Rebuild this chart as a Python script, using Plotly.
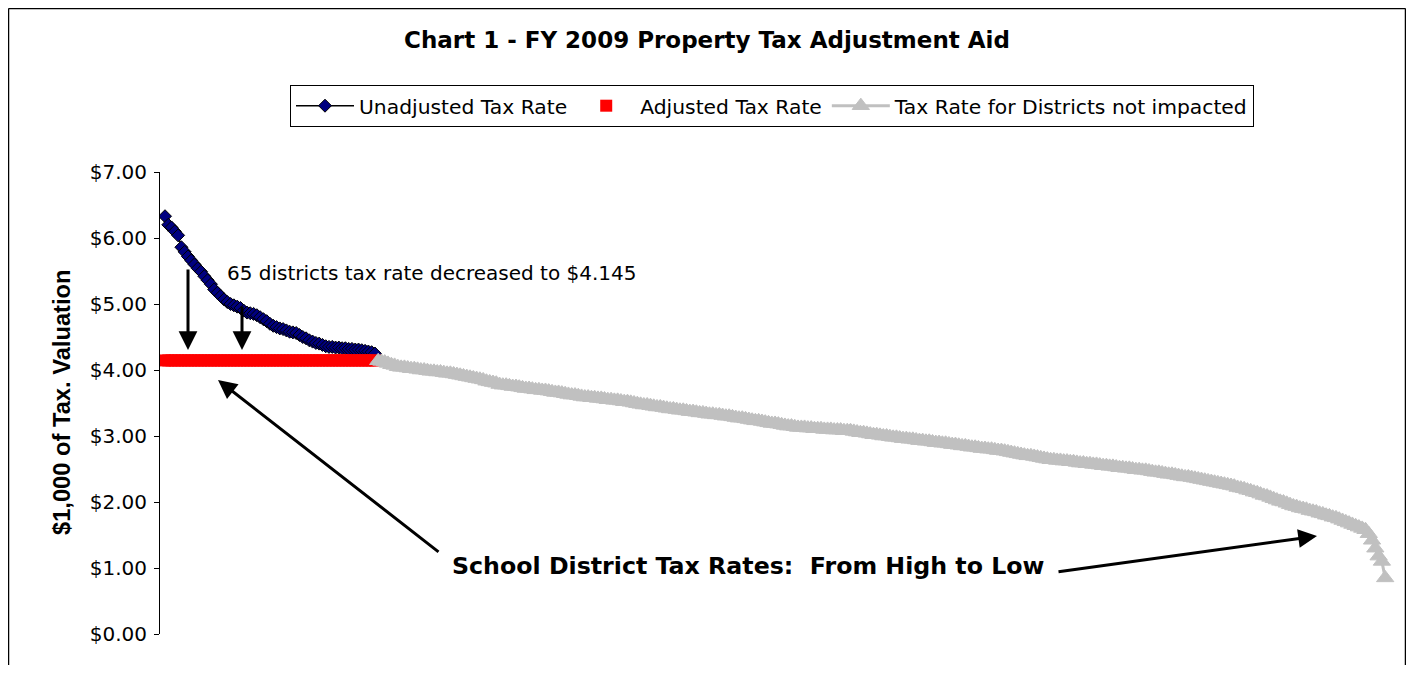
import plotly.graph_objects as go

# ---------------- data ----------------
title_text = "Chart 1 - FY 2009 Property Tax Adjustment Aid"
series_names = ["Unadjusted Tax Rate", "Adjusted Tax Rate", "Tax Rate for Districts not impacted"]

unadjusted_rates = [
    6.33, 6.20, 6.16, 6.10, 6.04, 5.86, 5.79, 5.72, 5.66, 5.60,
    5.54, 5.49, 5.42, 5.36, 5.30, 5.22, 5.17, 5.12, 5.07, 5.03,
    5.00, 4.98, 4.96, 4.94, 4.90, 4.87, 4.86, 4.85, 4.83, 4.80,
    4.77, 4.74, 4.70, 4.67, 4.65, 4.63, 4.62, 4.60, 4.58, 4.57,
    4.56, 4.53, 4.50, 4.48, 4.45, 4.43, 4.41, 4.40, 4.38, 4.36,
    4.35, 4.35, 4.34, 4.34, 4.33, 4.33, 4.32, 4.32, 4.31, 4.31,
    4.30, 4.29, 4.28, 4.27, 4.25,
]

adjusted_rate = 4.145
adjusted_rates = [adjusted_rate] * len(unadjusted_rates)

not_impacted_rates = [
    4.14, 4.13, 4.12, 4.10, 4.08, 4.07, 4.05,
    4.04, 4.04, 4.03, 4.02, 4.02, 4.01, 4.00, 4.00, 3.99, 3.98, 3.98, 3.97, 3.97, 3.96, 3.95, 3.95,
    3.94, 3.93, 3.92, 3.91, 3.90, 3.89, 3.88, 3.87, 3.86, 3.85, 3.83, 3.82, 3.81, 3.80, 3.78,
    3.77, 3.77, 3.76, 3.75, 3.75, 3.74, 3.73, 3.72, 3.72, 3.71, 3.70, 3.70, 3.69, 3.69, 3.68,
    3.67, 3.66, 3.66, 3.65, 3.64, 3.63, 3.62, 3.62, 3.61, 3.60, 3.59,
    3.59, 3.58, 3.58, 3.57, 3.57, 3.56, 3.55, 3.55, 3.54, 3.54, 3.53, 3.52, 3.52, 3.51,
    3.50, 3.49, 3.48, 3.47, 3.47, 3.46, 3.45, 3.44, 3.44, 3.43, 3.42, 3.41, 3.41, 3.40, 3.39,
    3.39, 3.38, 3.37, 3.37, 3.36, 3.35, 3.35, 3.34, 3.33, 3.33, 3.32, 3.32, 3.31, 3.30, 3.30,
    3.29, 3.28, 3.27, 3.27, 3.26, 3.25, 3.24, 3.23, 3.23, 3.22, 3.21, 3.20, 3.19, 3.19, 3.18,
    3.17, 3.16, 3.15, 3.15, 3.14,
    3.13, 3.13, 3.13, 3.12, 3.12, 3.11, 3.11, 3.11, 3.10, 3.10, 3.10, 3.09, 3.09, 3.09, 3.08,
    3.08, 3.08,
    3.07, 3.06, 3.05, 3.05, 3.04, 3.03, 3.02, 3.02, 3.01, 3.00, 3.00, 2.99, 2.98, 2.98, 2.97,
    2.96, 2.96, 2.95, 2.95, 2.94, 2.93, 2.93, 2.92, 2.92, 2.91, 2.90, 2.90, 2.89, 2.89, 2.88,
    2.87, 2.87, 2.86, 2.85, 2.85, 2.84, 2.83, 2.83, 2.82, 2.81, 2.81, 2.80, 2.80, 2.79, 2.78,
    2.78, 2.77,
    2.76, 2.75, 2.74, 2.73, 2.72, 2.71, 2.70, 2.70, 2.69, 2.68, 2.67, 2.66, 2.65, 2.64,
    2.64, 2.63, 2.63, 2.62, 2.62, 2.61, 2.61, 2.60, 2.59, 2.59, 2.58, 2.58, 2.57, 2.57, 2.56,
    2.55, 2.55, 2.54, 2.54, 2.53, 2.52, 2.52, 2.51, 2.51, 2.50, 2.49, 2.49, 2.48, 2.48, 2.47,
    2.46, 2.45, 2.45, 2.44, 2.43, 2.42, 2.42, 2.41, 2.40, 2.39, 2.38, 2.38, 2.37, 2.36, 2.35,
    2.34, 2.33, 2.32, 2.31, 2.30,
    2.29, 2.28, 2.27, 2.26, 2.25, 2.24, 2.22, 2.21, 2.20, 2.18, 2.17,
    2.15, 2.14, 2.12, 2.10, 2.09, 2.07, 2.05, 2.03, 2.01, 2.00, 1.98, 1.96, 1.94, 1.93, 1.91,
    1.90, 1.89, 1.87, 1.86, 1.85, 1.83, 1.82, 1.80, 1.79,
    1.77, 1.76, 1.74, 1.72, 1.70, 1.68, 1.66, 1.64, 1.62, 1.60, 1.58,
    1.52, 1.42, 1.30, 1.18, 1.10, 0.85,
]

y_tick_values = [0, 1, 2, 3, 4, 5, 6, 7]
y_tick_labels = ["$0.00", "$1.00", "$2.00", "$3.00", "$4.00", "$5.00", "$6.00", "$7.00"]

# district index positions (categories)
n_imp = len(unadjusted_rates)
x_impacted = list(range(1, n_imp + 1))
x_not = list(range(n_imp + 1, n_imp + 1 + len(not_impacted_rates)))

FONT = "DejaVu Sans, Arial, sans-serif"

fig = go.Figure()
fig.add_trace(go.Scatter(
    x=x_impacted, y=unadjusted_rates, name=series_names[0], mode="lines+markers",
    line=dict(color="black", width=1.5),
    marker=dict(symbol="diamond", size=10, color="#000080", line=dict(color="black", width=1)),
))
fig.add_trace(go.Scatter(
    x=x_impacted, y=adjusted_rates, name=series_names[1], mode="markers",
    marker=dict(symbol="square", size=12, color="#FF0000", line=dict(width=0)),
))
fig.add_trace(go.Scatter(
    x=x_not, y=not_impacted_rates, name=series_names[2], mode="lines+markers",
    line=dict(color="#C0C0C0", width=3),
    marker=dict(symbol="triangle-up", size=15, color="#C0C0C0", line=dict(color="#C0C0C0", width=1)),
))

# geometry (page px -> figure px: the page body has an 8px margin)
OFF = 8
W, H = 1398, 657
L, T = 160 - OFF, 172 - OFF
PB, PR = 634 - OFF, 1395 - OFF
B, R = H - PB, W - PR
pw = PR - L
ph = PB - T
step = 3.28
x0 = 1 - 5 / step
x1 = x0 + pw / step


def px_to_paper_x(px):
    return (px - OFF - L) / pw


def py_to_paper_y(py):
    return (PB - (py - OFF)) / ph


def px_to_data_x(px):
    return x0 + (px - OFF - L) / step


def py_to_data_y(py):
    return py_to_paper_y(py) * 7.0


annotations = [
    dict(text="65 districts tax rate decreased to $4.145", x=px_to_data_x(225), y=py_to_data_y(273),
         xref="x", yref="y", xanchor="left", yanchor="middle", showarrow=False,
         font=dict(family=FONT, size=20, color="black")),
    dict(text="<b>School District Tax Rates:\u00a0 From High to Low</b>", x=px_to_data_x(748), y=py_to_data_y(566),
         xref="x", yref="y", xanchor="center", yanchor="middle", showarrow=False,
         font=dict(family=FONT, size=23.7, color="black")),
    dict(text="<b>$1,000 of Tax. Valuation</b>", x=px_to_paper_x(62), y=py_to_paper_y(402),
         xref="paper", yref="paper", xanchor="center", yanchor="middle", showarrow=False, textangle=-90,
         font=dict(family="Liberation Sans, Arial, sans-serif", size=23.7, color="black")),
]

arrows = [
    # (tip px, tail px) in reference page pixels
    ((188, 350), (188, 268)),
    ((242, 350), (242, 305)),
    ((218, 380), (440, 553)),
    ((1317, 536), (1057, 572)),
]
for (tx, ty), (sx, sy) in arrows:
    annotations.append(dict(
        text="", x=px_to_data_x(tx), y=py_to_data_y(ty), xref="x", yref="y",
        ax=sx - tx, ay=sy - ty, axref="pixel", ayref="pixel",
        showarrow=True, arrowhead=2, arrowsize=1.25, arrowwidth=3, arrowcolor="black", standoff=0,
    ))

frame_left = px_to_paper_x(OFF + 0.5)
frame_right = px_to_paper_x(OFF + W - 0.5)
frame_top = py_to_paper_y(OFF + 0.5)
frame_bottom = py_to_paper_y(OFF + H)
frame_line = dict(color="black", width=1.5)

fig.update_layout(
    width=W, height=H,
    margin=dict(l=L, r=R, t=T, b=B, pad=0),
    paper_bgcolor="white", plot_bgcolor="white",
    font=dict(family=FONT, size=20, color="black"),
    title=dict(text="<b>" + title_text + "</b>", x=0.5, xref="container", xanchor="center",
               y=1 - (40 - OFF) / H, yref="container", yanchor="middle",
               font=dict(family=FONT, size=23, color="black")),
    showlegend=True,
    legend=dict(orientation="h", x=px_to_paper_x(290), xanchor="left", y=py_to_paper_y(85), yanchor="top",
                bordercolor="black", borderwidth=1, bgcolor="white",
                font=dict(family=FONT, size=20.3, color="black"), itemwidth=58),
    xaxis=dict(visible=False, range=[x0, x1]),
    yaxis=dict(range=[0, 7], tickvals=y_tick_values, ticktext=y_tick_labels, showgrid=False, zeroline=False,
               showline=True, linecolor="black", linewidth=1, ticks="outside", ticklen=5, tickcolor="black",
               tickfont=dict(family=FONT, size=20, color="black"), ticklabelstandoff=3),
    annotations=annotations,
    shapes=[
        dict(type="line", xref="paper", yref="paper", x0=frame_left, x1=frame_left, y0=frame_bottom, y1=frame_top,
             line=frame_line),
        dict(type="line", xref="paper", yref="paper", x0=frame_right, x1=frame_right, y0=frame_bottom, y1=frame_top,
             line=frame_line),
        dict(type="line", xref="paper", yref="paper", x0=frame_left, x1=frame_right, y0=frame_top, y1=frame_top,
             line=frame_line),
    ],
)

fig.write_html("out.html")
